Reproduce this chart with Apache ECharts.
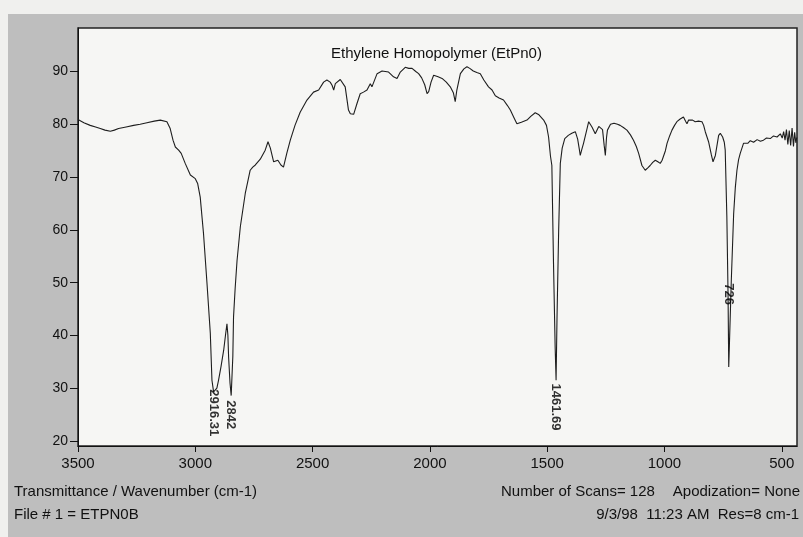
<!DOCTYPE html>
<html lang="en">
<head>
    <meta charset="UTF-8">
    <title>Ethylene Homopolymer (EtPn0)</title>
    <script src="https://cdn.jsdelivr.net/npm/echarts@6.0.0/dist/echarts.min.js"></script>
    <style>
        html, body { margin: 0; padding: 0; background: #f0f0ee; }
        #main { width: 803px; height: 537px; }
    </style>
</head>
<body>
    <div id="main"></div>
    <script>
        // spectrum: wavenumber (cm-1) and % transmittance
        var wavenumber = [
            3500, 3475, 3448, 3425, 3405, 3385, 3362, 3345, 3327, 3295,
            3263, 3235, 3206, 3175, 3149, 3121, 3107, 3095, 3085, 3071,
            3060, 3043, 3021, 3000, 2990, 2979, 2965, 2950, 2936, 2929,
            2922, 2915, 2908, 2901, 2890, 2879, 2870, 2865, 2861, 2858,
            2852, 2847, 2843, 2840, 2837, 2830, 2822, 2808, 2787, 2766,
            2755, 2744, 2723, 2702, 2690, 2680, 2666, 2659, 2648, 2635,
            2624, 2610, 2595, 2575, 2553, 2524, 2496, 2474, 2453, 2439,
            2425, 2417, 2410, 2403, 2382, 2361, 2347, 2339, 2325, 2311,
            2297, 2283, 2268, 2254, 2247, 2225, 2204, 2190, 2176, 2155,
            2140, 2126, 2105, 2090, 2076, 2060, 2048, 2035, 2022, 2012,
            2005, 1995, 1984, 1965, 1948, 1930, 1913, 1900, 1892, 1885,
            1870, 1855, 1842, 1830, 1815, 1800, 1785, 1770, 1750, 1735,
            1721, 1705, 1686, 1670, 1657, 1642, 1629, 1610, 1586, 1570,
            1551, 1535, 1515, 1503, 1494, 1486, 1480, 1473, 1466, 1462,
            1458, 1451, 1444, 1436, 1425, 1410, 1395, 1380, 1370, 1362,
            1359, 1352, 1345, 1330, 1323, 1309, 1295, 1280, 1274, 1264,
            1257, 1252, 1247, 1243, 1230, 1215, 1200, 1189, 1175, 1160,
            1145, 1132, 1120, 1110, 1096, 1082, 1070, 1061, 1050, 1039,
            1028, 1018, 1010, 1004, 996, 989, 978, 968, 957, 947,
            933, 919, 910, 904, 897, 890, 880, 869, 855, 840,
            833, 826, 812, 800, 793, 783, 769, 762, 752, 745,
            741, 734, 729, 726, 722, 715, 705, 698, 691, 684,
            677, 663, 656, 645, 634, 620, 605, 591, 578, 565,
            549, 535, 520, 506, 498, 492, 486, 480, 474, 468,
            462, 456, 450, 445, 440, 436
        ];
        var transmittance = [
            80.9, 80.3, 79.8, 79.5, 79.2, 78.9, 78.7, 78.9, 79.2, 79.5,
            79.8, 80.0, 80.3, 80.6, 80.8, 80.5, 79.2, 77.0, 75.7, 75.1,
            74.5, 72.6, 70.4, 69.7, 68.8, 66.2, 59.3, 49.8, 40.4, 31.5,
            29.3, 29.0, 30.0, 31.5, 34.2, 37.2, 40.5, 42.2, 40.0, 35.9,
            31.0, 28.6, 28.5, 36.0, 43.5, 49.0, 54.2, 60.6, 66.9, 71.3,
            71.9, 72.3, 73.4, 75.1, 76.7, 75.5, 72.9, 72.6, 73.2, 72.3,
            71.9, 74.5, 77.0, 79.8, 82.3, 84.6, 86.1, 86.5, 88.0, 88.4,
            88.0, 87.4, 86.5, 87.7, 88.5, 87.1, 82.7, 82.0, 81.9, 83.9,
            85.8, 86.1, 86.5, 87.7, 87.1, 89.6, 90.1, 90.0, 89.9, 89.0,
            88.7, 89.9, 90.8, 90.6, 90.6, 90.0, 89.6, 88.8, 87.5, 85.8,
            86.2, 88.0, 89.3, 89.0, 88.7, 88.0, 87.1, 86.0, 84.3, 86.5,
            89.6, 90.5, 90.9, 90.6, 90.1, 89.8, 89.6, 88.4, 87.1, 86.5,
            85.4, 85.0, 84.6, 83.6, 82.7, 81.3, 80.1, 80.4, 80.8, 81.5,
            82.2, 81.8, 80.8, 79.8, 77.6, 74.0, 72.2, 53.7, 37.8, 31.5,
            43.5, 59.9, 72.6, 75.5, 77.3, 77.9, 78.3, 78.6, 77.2, 75.0,
            74.1, 75.3, 76.4, 79.2, 80.5, 79.5, 78.2, 79.6, 79.8, 79.0,
            76.0, 74.1, 77.5, 78.9, 80.0, 80.2, 80.0, 79.8, 79.4, 78.9,
            78.0, 77.0, 75.8, 74.5, 72.2, 71.3, 71.8, 72.2, 72.8, 73.2,
            72.9, 72.6, 73.2, 73.5, 75.0, 76.4, 77.8, 78.9, 79.8, 80.5,
            81.0, 81.4, 80.6, 80.1, 80.8, 81.1, 80.8, 80.5, 80.6, 80.5,
            79.8, 78.6, 76.7, 74.2, 72.9, 74.1, 77.9, 78.3, 77.6, 76.6,
            75.1, 62.4, 48.0, 34.0, 40.0, 50.5, 63.1, 68.0, 71.3, 73.3,
            74.5, 76.4, 76.7, 76.4, 76.9, 76.6, 77.1, 76.8, 77.0, 77.4,
            77.3, 77.8, 77.6, 78.2, 77.4, 78.6, 77.0, 79.0, 76.2, 78.8,
            76.0, 79.3, 75.8, 78.5, 76.5, 77.5
        ];

        // peak annotations (text and where the label starts)
        var peakText = ['2916.31', '2842', '1461.69', '726'];
        var peakX = [2921, 2850, 1465, 727];
        var peakY = [29.8, 27.7, 30.9, 49.9];

        var xTicks = [3500, 3000, 2500, 2000, 1500, 1000, 500];
        var yTicks = [20, 30, 40, 50, 60, 70, 80, 90];

        var spectrum = wavenumber.map(function (w, i) { return [w, transmittance[i]]; });
        var peaks = peakText.map(function (t, i) { return [peakX[i], peakY[i], t]; });

        var font = 'Arial, "Liberation Sans", sans-serif';
        var myChart = echarts.init(document.getElementById('main'));

        var option = {
            backgroundColor: '#f0f0ee',
            animation: false,
            graphic: [{
                type: 'rect',
                z: -100,
                shape: { x: 8, y: 14, width: 795, height: 523 },
                style: { fill: '#bebebe' }
            }],
            title: [
                { text: 'Ethylene Homopolymer (EtPn0)', left: 331, top: 46, padding: 0,
                  textStyle: { fontSize: 15, fontWeight: 'normal', color: '#111', fontFamily: font } },
                { text: 'Transmittance / Wavenumber (cm-1)', left: 14, top: 484, padding: 0,
                  textStyle: { fontSize: 15, fontWeight: 'normal', color: '#111', fontFamily: font } },
                { text: 'File # 1 = ETPN0B', left: 14, top: 507, padding: 0,
                  textStyle: { fontSize: 15, fontWeight: 'normal', color: '#111', fontFamily: font } },
                { text: 'Number of Scans= 128', left: 501, top: 484, padding: 0,
                  textStyle: { fontSize: 15, fontWeight: 'normal', color: '#111', fontFamily: font } },
                { text: 'Apodization= None', right: 3, top: 484, padding: 0,
                  textStyle: { fontSize: 15, fontWeight: 'normal', color: '#111', fontFamily: font } },
                { text: '9/3/98  11:23 AM  Res=8 cm-1', right: 4, top: 507, padding: 0,
                  textStyle: { fontSize: 15, fontWeight: 'normal', color: '#111', fontFamily: font } }
            ],
            grid: {
                left: 78, right: 6, top: 28, bottom: 91,
                show: true,
                backgroundColor: '#f6f6f4',
                borderColor: '#222',
                borderWidth: 1.5
            },
            xAxis: {
                type: 'value',
                inverse: true,
                min: 435,
                max: 3500,
                axisLine: { lineStyle: { color: '#111', width: 1 } },
                axisTick: { customValues: xTicks, length: 6, lineStyle: { color: '#111' } },
                axisLabel: {
                    customValues: xTicks, margin: 10, fontSize: 15, color: '#111', fontFamily: font,
                    formatter: function (v) { return String(v); }
                },
                splitLine: { show: false }
            },
            yAxis: {
                type: 'value',
                min: 19.05,
                max: 98.25,
                axisLine: { show: true, lineStyle: { color: '#111', width: 1 } },
                axisTick: { show: true, customValues: yTicks, length: 8, lineStyle: { color: '#111' } },
                axisLabel: { customValues: yTicks, margin: 10, fontSize: 14, color: '#111', fontFamily: font },
                splitLine: { show: false }
            },
            series: [
                {
                    name: 'spectrum',
                    type: 'line',
                    data: spectrum,
                    showSymbol: false,
                    lineStyle: { color: '#1e1e1e', width: 1.1 },
                    z: 2
                },
                {
                    name: 'peaks',
                    type: 'scatter',
                    data: peaks,
                    symbolSize: 0.1,
                    itemStyle: { color: 'rgba(0,0,0,0)' },
                    z: 3,
                    label: {
                        show: true,
                        position: 'inside',
                        rotate: -90,
                        align: 'left',
                        verticalAlign: 'middle',
                        formatter: function (p) { return p.data[2]; },
                        fontSize: 13,
                        fontWeight: 'bold',
                        color: '#000',
                        fontFamily: font
                    }
                }
            ]
        };

        myChart.setOption(option);
    </script>
</body>
</html>
